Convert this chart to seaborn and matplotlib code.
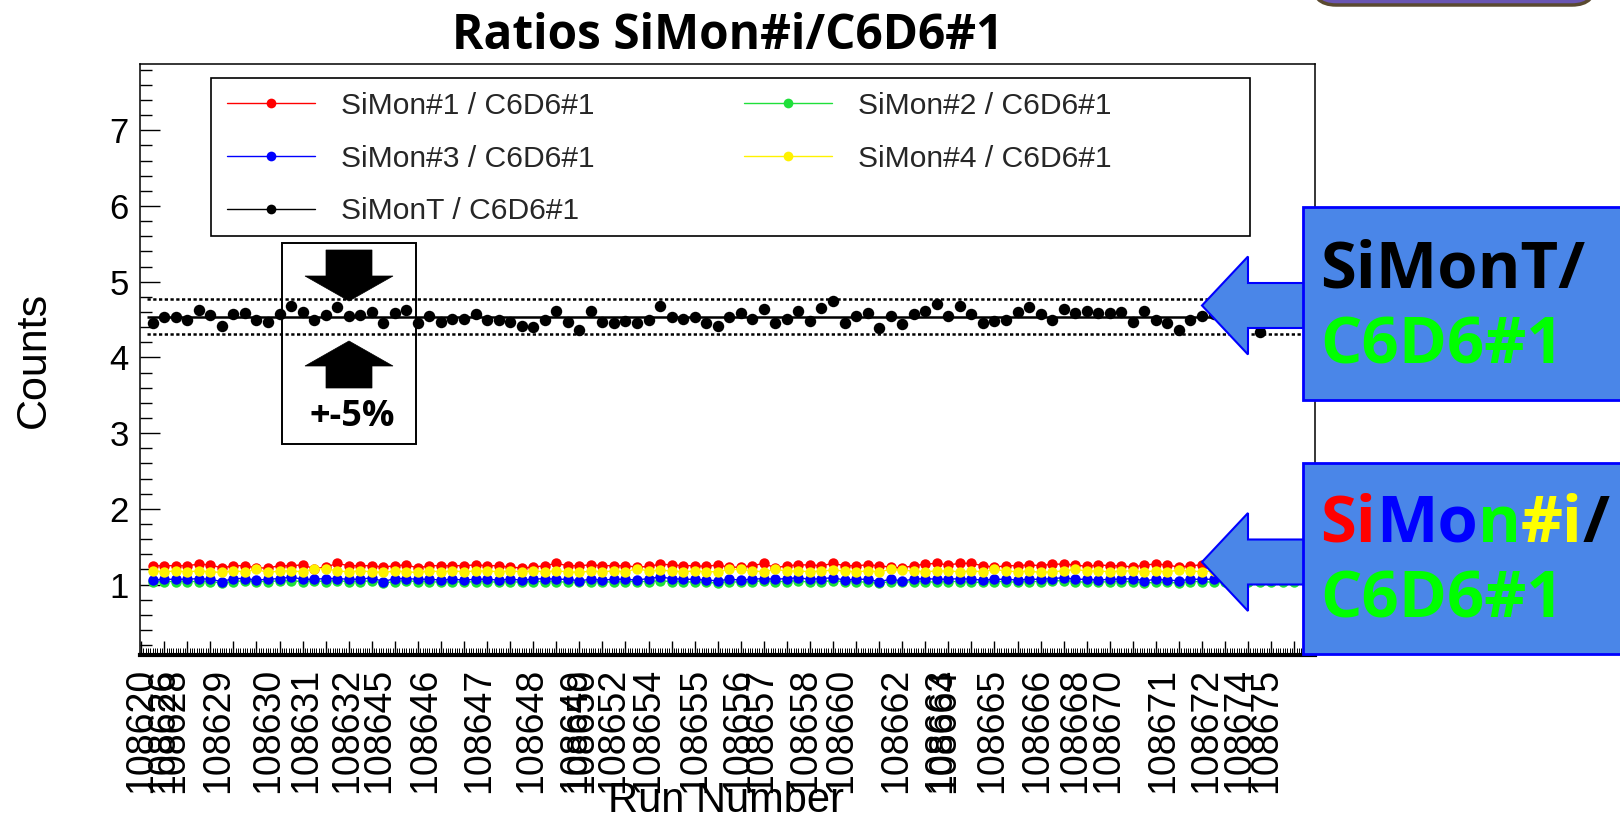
import numpy as np
import pandas as pd
import matplotlib
matplotlib.use("Agg")
import matplotlib.pyplot as plt
import matplotlib.transforms as mtransforms
from matplotlib.patches import Polygon, Rectangle, FancyBboxPatch
from matplotlib.lines import Line2D
from matplotlib.ticker import MultipleLocator
import seaborn as sns

# ---------------- data ----------------
bins = list(range(101))

ratio_simonT = [
    4.45, 4.53, 4.53, 4.50, 4.63, 4.56, 4.42, 4.58, 4.59, 4.50,
    4.47, 4.58, 4.68, 4.60, 4.50, 4.56, 4.66, 4.55, 4.56, 4.60,
    4.46, 4.59, 4.63, 4.46, 4.55, 4.47, 4.51, 4.51, 4.58, 4.50,
    4.50, 4.47, 4.42, 4.40, 4.50, 4.61, 4.47, 4.36, 4.61, 4.47,
    4.46, 4.48, 4.45, 4.50, 4.68, 4.53, 4.51, 4.53, 4.46, 4.42,
    4.54, 4.59, 4.51, 4.64, 4.45, 4.51, 4.61, 4.48, 4.65, 4.75,
    4.45, 4.55, 4.59, 4.39, 4.55, 4.44, 4.57, 4.62, 4.70, 4.55,
    4.68, 4.57, 4.45, 4.48, 4.49, 4.60, 4.66, 4.57, 4.50, 4.64,
    4.59, 4.61, 4.59, 4.59, 4.60, 4.47, 4.61, 4.50, 4.45, 4.36,
    4.50, 4.55, 4.58, 4.52, 4.49, 4.56, 4.34, 4.52, 4.57, 4.50, 4.53,
]

ratio_simon1 = [
    1.25, 1.25, 1.25, 1.25, 1.27, 1.26, 1.22, 1.25, 1.25, 1.22,
    1.22, 1.25, 1.25, 1.26, 1.21, 1.23, 1.28, 1.25, 1.25, 1.25,
    1.23, 1.25, 1.26, 1.22, 1.25, 1.25, 1.25, 1.25, 1.26, 1.25,
    1.25, 1.23, 1.22, 1.23, 1.25, 1.28, 1.25, 1.25, 1.26, 1.25,
    1.25, 1.25, 1.23, 1.24, 1.27, 1.26, 1.25, 1.25, 1.24, 1.26,
    1.23, 1.23, 1.25, 1.28, 1.22, 1.25, 1.26, 1.26, 1.25, 1.28,
    1.25, 1.25, 1.26, 1.25, 1.23, 1.22, 1.25, 1.27, 1.28, 1.26,
    1.28, 1.28, 1.25, 1.23, 1.25, 1.25, 1.26, 1.25, 1.27, 1.27,
    1.26, 1.24, 1.26, 1.25, 1.25, 1.23, 1.26, 1.27, 1.26, 1.23,
    1.25, 1.26, 1.25, 1.25, 1.24, 1.25, 1.26, 1.25, 1.25, 1.25, 1.25,
]

ratio_simon2 = [
    1.03, 1.04, 1.04, 1.04, 1.04, 1.04, 1.02, 1.04, 1.05, 1.04,
    1.04, 1.05, 1.05, 1.04, 1.05, 1.04, 1.05, 1.04, 1.04, 1.05,
    1.02, 1.04, 1.05, 1.04, 1.04, 1.03, 1.04, 1.03, 1.04, 1.04,
    1.03, 1.04, 1.03, 1.04, 1.04, 1.04, 1.03, 1.03, 1.04, 1.04,
    1.03, 1.04, 1.04, 1.04, 1.05, 1.04, 1.04, 1.03, 1.03, 1.02,
    1.04, 1.03, 1.04, 1.05, 1.04, 1.04, 1.05, 1.03, 1.04, 1.05,
    1.04, 1.04, 1.03, 1.02, 1.04, 1.03, 1.04, 1.04, 1.03, 1.04,
    1.04, 1.03, 1.03, 1.04, 1.04, 1.03, 1.04, 1.04, 1.05, 1.05,
    1.04, 1.03, 1.03, 1.04, 1.04, 1.04, 1.02, 1.03, 1.03, 1.02,
    1.04, 1.04, 1.03, 1.03, 1.04, 1.04, 1.03, 1.03, 1.04, 1.04, 1.04,
]

ratio_simon3 = [
    1.06, 1.07, 1.07, 1.07, 1.08, 1.07, 1.04, 1.08, 1.08, 1.06,
    1.07, 1.08, 1.10, 1.07, 1.07, 1.08, 1.08, 1.07, 1.07, 1.09,
    1.04, 1.08, 1.08, 1.07, 1.07, 1.06, 1.07, 1.06, 1.07, 1.07,
    1.06, 1.07, 1.06, 1.07, 1.08, 1.07, 1.07, 1.05, 1.07, 1.06,
    1.07, 1.07, 1.06, 1.08, 1.10, 1.08, 1.07, 1.07, 1.06, 1.05,
    1.07, 1.06, 1.07, 1.08, 1.07, 1.08, 1.09, 1.07, 1.08, 1.09,
    1.06, 1.07, 1.07, 1.04, 1.07, 1.05, 1.07, 1.08, 1.07, 1.07,
    1.08, 1.07, 1.06, 1.07, 1.07, 1.06, 1.07, 1.07, 1.08, 1.09,
    1.07, 1.07, 1.06, 1.07, 1.07, 1.08, 1.05, 1.07, 1.06, 1.05,
    1.07, 1.07, 1.07, 1.06, 1.07, 1.07, 1.07, 1.06, 1.07, 1.07, 1.07,
]

ratio_simon4 = [
    1.18, 1.17, 1.18, 1.17, 1.18, 1.17, 1.16, 1.18, 1.17, 1.20,
    1.16, 1.18, 1.18, 1.17, 1.21, 1.21, 1.18, 1.17, 1.18, 1.17,
    1.16, 1.18, 1.17, 1.16, 1.18, 1.17, 1.18, 1.17, 1.18, 1.18,
    1.17, 1.18, 1.17, 1.18, 1.17, 1.18, 1.17, 1.16, 1.18, 1.17,
    1.18, 1.17, 1.21, 1.18, 1.19, 1.18, 1.17, 1.18, 1.17, 1.17,
    1.20, 1.20, 1.18, 1.17, 1.20, 1.18, 1.18, 1.17, 1.18, 1.19,
    1.18, 1.17, 1.18, 1.17, 1.20, 1.19, 1.18, 1.17, 1.18, 1.18,
    1.17, 1.18, 1.17, 1.20, 1.18, 1.17, 1.18, 1.16, 1.17, 1.18,
    1.20, 1.18, 1.18, 1.17, 1.18, 1.18, 1.17, 1.18, 1.17, 1.19,
    1.18, 1.17, 1.18, 1.18, 1.17, 1.18, 1.17, 1.18, 1.17, 1.18, 1.18,
]

mean_ratio = 4.54
band_fraction = 0.05

run_labels = [
    "108620", "108626", "108628", "108629", "108630", "108631", "108632",
    "108645", "108646", "108647", "108648", "108649", "108650", "108652",
    "108654", "108655", "108656", "108657", "108658", "108660", "108662",
    "108663", "108664", "108665", "108666", "108668", "108670", "108671",
    "108672", "108674", "108675",
]
run_label_bins = [
    -1.0, 0.9, 1.8, 5.7, 10.0, 13.3, 16.9,
    19.6, 23.6, 28.3, 32.8, 36.6, 37.2, 39.9,
    43.0, 47.0, 50.8, 52.8, 56.6, 59.7, 64.5,
    68.3, 68.6, 72.8, 76.7, 80.0, 82.9, 87.6,
    91.4, 94.2, 96.6,
]

series_names = ["SiMon#1 / C6D6#1", "SiMon#2 / C6D6#1", "SiMon#3 / C6D6#1",
                "SiMon#4 / C6D6#1", "SiMonT / C6D6#1"]
series_colors = ["#FF0000", "#1FE03A", "#0000FF", "#FFF200", "#000000"]

df = pd.DataFrame({
    "bin": bins,
    series_names[0]: ratio_simon1,
    series_names[1]: ratio_simon2,
    series_names[2]: ratio_simon3,
    series_names[3]: ratio_simon4,
    series_names[4]: ratio_simonT,
})

# ---------------- figure ----------------
sns.set_theme(style="white")
plt.rcParams["font.family"] = ["Liberation Sans", "DejaVu Sans"]

W, H = 1620, 821
fig = plt.figure(figsize=(W / 100, H / 100), dpi=100)
fig.patch.set_facecolor("white")
ax = fig.add_axes([140 / W, 1 - 655 / H, 1175 / W, 591 / H])
ax.set_facecolor("white")
px = mtransforms.Affine2D().scale(1 / W, -1 / H).translate(0, 1) + fig.transFigure

for name, col in zip(series_names[:4], series_colors[:4]):
    sns.lineplot(data=df, x="bin", y=name, color=col, marker="o", markersize=7.5,
                 markeredgecolor=col, markeredgewidth=0, linewidth=1.0,
                 ax=ax, legend=False, zorder=2)

sns.scatterplot(data=df, x="bin", y=series_names[4], color="black", s=68,
                edgecolor="black", linewidth=0, ax=ax, legend=False, zorder=4)

ax.hlines(mean_ratio, -0.5, 100.5, colors="black", linewidth=1.8, zorder=3)
ax.hlines([mean_ratio * (1 + band_fraction), mean_ratio * (1 - band_fraction)],
          -0.5, 100.5, colors="black", linewidth=1.8,
          linestyles=[(0, (1.3, 1.0))], zorder=3)

ax.set_xlim(-1.1, 100.8)
ax.set_ylim(0.07, 7.876)

ax.xaxis.set_major_locator(MultipleLocator(2, offset=1))
ax.xaxis.set_minor_locator(MultipleLocator(0.2))
ax.yaxis.set_major_locator(MultipleLocator(1))
ax.yaxis.set_minor_locator(MultipleLocator(0.2))
ax.tick_params(axis="x", which="major", direction="in", length=10, width=1.0,
               bottom=True, top=False, labelbottom=False, color="black")
ax.tick_params(axis="x", which="minor", direction="in", length=5, width=0.7,
               bottom=True, top=False, color="black")
ax.tick_params(axis="y", which="major", direction="in", length=14.4, width=1.0,
               left=True, right=False, labelsize=25, pad=8, color="black",
               labelcolor="black")
ax.tick_params(axis="y", which="minor", direction="in", length=8.6, width=1.0,
               left=True, right=False, color="black")
for s in ax.spines.values():
    s.set_color("black")
    s.set_linewidth(1.1)
ax.spines["bottom"].set_linewidth(3.0)

sec = ax.secondary_xaxis("bottom")
sec.set_xticks(run_label_bins, labels=run_labels)
sec.tick_params(axis="x", length=0, labelsize=27, pad=9, labelrotation=90,
                labelcolor="black")
sec.spines["bottom"].set_visible(False)

ax.set_ylabel("Counts", fontsize=31, color="black")
ax.yaxis.set_label_coords(-0.073, 0.5)
ax.set_xlabel("Run Number", fontsize=30, color="black")
ax.xaxis.set_label_coords(0.4987, -0.2657)
ax.xaxis.label.set_verticalalignment("baseline")

# legend (ROOT-style box)
order = [0, 2, 4, 1, 3]
handles = [Line2D([], [], color=series_colors[k], marker="o", markersize=7,
                  markeredgewidth=0, linewidth=1.0) for k in order]
labels = [series_names[k] for k in order]
ax.add_patch(Rectangle((211, 78), 1039, 158, transform=px, facecolor="white",
                       edgecolor="black", linewidth=1.2, zorder=4.5, clip_on=False))
leg = ax.legend(handles, labels, ncol=2, loc="upper left", bbox_to_anchor=(227, 92),
                bbox_transform=px, frameon=False, fontsize=21.6, handlelength=2.93,
                handletextpad=0.87, columnspacing=4.98, labelspacing=0.82,
                borderpad=0, borderaxespad=0)
leg.set_zorder(5)

# title
fig.text(728, 48.6, "Ratios SiMon#i/C6D6#1", transform=px, ha="center", va="baseline",
         fontsize=34.4, fontweight="bold", family=["Open Sans", "DejaVu Sans"], color="black")

# +-5% box and arrows
fig.add_artist(Rectangle((282, 243), 134, 201, transform=px, fill=False,
                         edgecolor="black", linewidth=1.4))
fig.add_artist(Polygon([(326, 250), (372, 250), (372, 276), (393, 276), (349, 301),
                        (305, 276), (326, 276)], closed=True, transform=px,
                       facecolor="black", edgecolor="black", linewidth=0.5))
fig.add_artist(Polygon([(349, 341), (393, 366), (372, 366), (372, 388), (326, 388),
                        (326, 366), (305, 366)], closed=True, transform=px,
                       facecolor="black", edgecolor="black", linewidth=0.5))
fig.text(352, 426, "+-5%", transform=px, ha="center", va="baseline", fontsize=26,
         fontweight="bold", family=["Open Sans", "DejaVu Sans"], color="black")

# blue callouts
callout_fill = "#4A86E8"
callout_edge = "#0000FF"
for cy, top, bot in [(305.5, 207, 400), (562, 463, 654)]:
    fig.add_artist(Polygon([(1202, cy), (1248, cy - 49), (1248, cy - 22.5), (1312, cy - 22.5),
                            (1312, cy + 22.5), (1248, cy + 22.5), (1248, cy + 49)],
                           closed=True, transform=px, facecolor=callout_fill,
                           edgecolor=callout_edge, linewidth=1.5))
    fig.add_artist(Rectangle((1303, top), 340, bot - top, transform=px,
                             facecolor=callout_fill, edgecolor=callout_edge, linewidth=2))

big = dict(fontsize=47, fontweight="bold", family=["Open Sans", "DejaVu Sans"])
fig.text(1320, 287, "SiMonT/", transform=px, ha="left", va="baseline", color="black", **big)
fig.text(1320, 363, "C6D6#1", transform=px, ha="left", va="baseline", color="#00FF00", **big)

renderer = fig.canvas.get_renderer()
chunks = [("Si", "#FF0000"), ("Mo", "#0000FF"), ("n", "#00FF00"), ("#i", "#FFFF00"), ("/", "black")]
cursor = 1320.0
for txt, col in chunks:
    t = fig.text(cursor, 541.7, txt, transform=px, ha="left", va="baseline", color=col, **big)
    cursor = t.get_window_extent(renderer).x1
fig.text(1320, 618, "C6D6#1", transform=px, ha="left", va="baseline", color="#00FF00", **big)

# purple shape at the top right
fig.add_artist(FancyBboxPatch((1312, -45), 284, 50, boxstyle="round,pad=0,rounding_size=24",
                              transform=px, facecolor="#6A55B2", edgecolor="#5A4A30",
                              linewidth=2.5))

fig.savefig("out.png", dpi=100, facecolor="white")
